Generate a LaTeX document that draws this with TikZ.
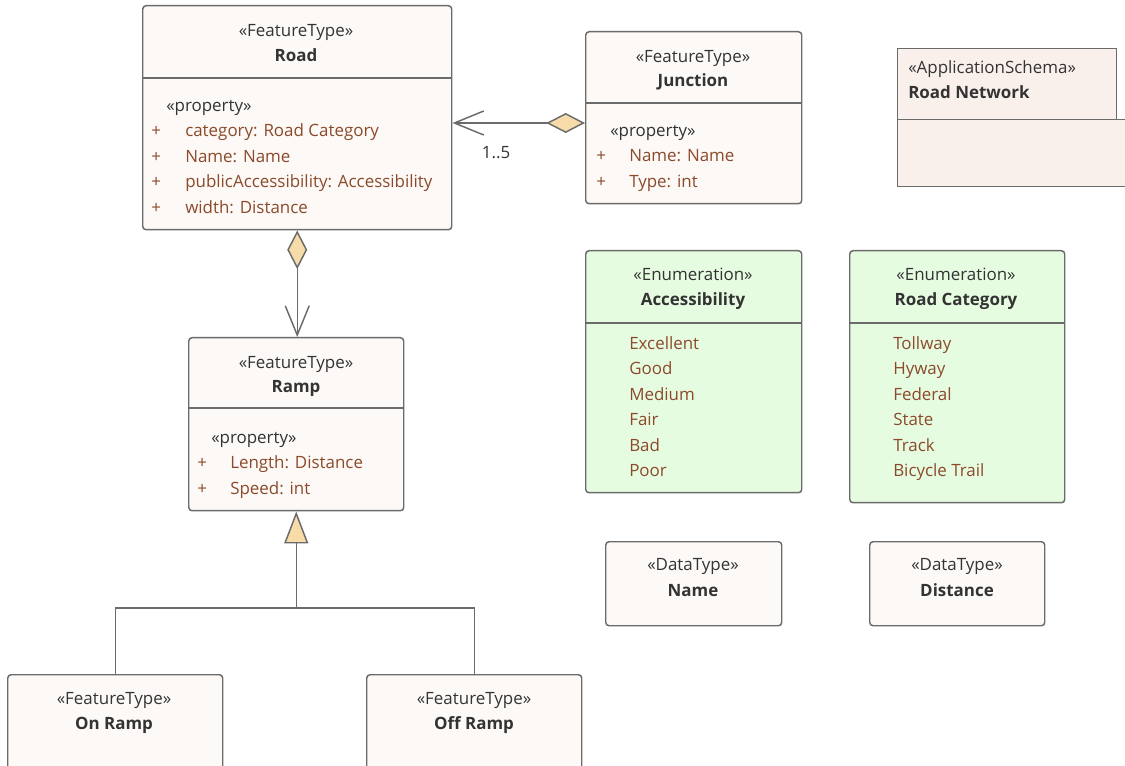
\documentclass[tikz,border=0pt]{standalone}
\usepackage{fontspec}
\setmainfont{Open Sans}
\usetikzlibrary{arrows.meta}
\definecolor{linegray}{HTML}{6B6B6B}
\definecolor{featfill}{HTML}{FDF9F6}
\definecolor{pkgfill}{HTML}{F9F0EC}
\definecolor{enumfill}{HTML}{E6FCE1}
\definecolor{attrtext}{HTML}{8B4A2B}
\definecolor{headtext}{HTML}{333333}
\definecolor{tipfill}{HTML}{F7DCAA}
\begin{document}
\begin{tikzpicture}[x=0.75pt, y=-0.75pt,
    every node/.style={font=\fontsize{12.7}{15}\selectfont, inner sep=0pt},
    box/.style={draw=linegray, line width=1.1pt, fill=featfill, rounded corners=2.5pt, anchor=north west},
    stereo/.style={text=headtext, anchor=mid, yshift=-2pt},
    title/.style={text=headtext, font=\fontsize{12.7}{15}\selectfont\bfseries, anchor=mid, yshift=-2pt},
    attr/.style={text=attrtext, anchor=mid west, yshift=-2pt},
    prop/.style={text=headtext, anchor=mid west, yshift=-2pt},
    sep/.style={draw=linegray, line width=1.1pt},
    link/.style={draw=linegray, line width=1.1pt},
    assoc/.style={link, {Diamond[length=29pt, width=15pt, fill=tipfill]}-{Straight Barb[length=22pt, width=18pt]}},
    gen/.style={link, {Triangle[length=24pt, width=18pt, fill=tipfill]}-},
  ]
  \useasboundingbox (0,0) rectangle (1125,766);

  % classes
  \node[box, minimum width=309*0.75pt, minimum height=224*0.75pt] (road) at (142,5) {};
  \node[box, minimum width=216*0.75pt, minimum height=172*0.75pt] (junction) at (585,31) {};
  \node[box, minimum width=215*0.75pt, minimum height=173*0.75pt] (ramp) at (188,337) {};
  \node[box, minimum width=215*0.75pt, minimum height=120*0.75pt] (onramp) at (7,674) {};
  \node[box, minimum width=215*0.75pt, minimum height=120*0.75pt] (offramp) at (366,674) {};
  \node[box, fill=enumfill, minimum width=216*0.75pt, minimum height=242*0.75pt] (access) at (585,250) {};
  \node[box, fill=enumfill, minimum width=215*0.75pt, minimum height=252*0.75pt] (roadcat) at (849,250) {};
  \node[box, minimum width=176*0.75pt, minimum height=84*0.75pt] (name) at (605,541) {};
  \node[box, minimum width=175*0.75pt, minimum height=84*0.75pt] (distance) at (869,541) {};

  % package
  \node[box, fill=pkgfill, rounded corners=0pt, minimum width=219*0.75pt, minimum height=71*0.75pt] (pkgtab) at (897,48) {};
  \node[box, fill=pkgfill, rounded corners=0pt, minimum width=240*0.75pt, minimum height=67*0.75pt] (pkgbody) at (897,119) {};

  % compartments
  \draw[sep] (road.west |- 0,78) -- (road.east |- 0,78);
  \draw[sep] (junction.west |- 0,103) -- (junction.east |- 0,103);
  \draw[sep] (ramp.west |- 0,408) -- (ramp.east |- 0,408);
  \draw[sep] (access.west |- 0,323) -- (access.east |- 0,323);
  \draw[sep] (roadcat.west |- 0,323) -- (roadcat.east |- 0,323);

  % Road
  \node[stereo] (road-st) at (296,30) {«FeatureType»};
  \node[title] (road-nm) at (296,55) {Road};
  \node[prop] (road-pr) at (166,105) {«property»};
  \foreach \t [count=\i] in {category: Road Category, Name: Name, publicAccessibility: Accessibility, width: Distance} {
    \node[attr] (road-p\i) at (151,{105+25.5*\i}) {+};
    \node[attr] (road-a\i) at (185,{105+25.5*\i}) {\t};
  }

  % Junction
  \node[stereo] (junc-st) at (693,56) {«FeatureType»};
  \node[title] (junc-nm) at (693,80) {Junction};
  \node[prop] (junc-pr) at (610,130) {«property»};
  \foreach \t [count=\i] in {Name: Name, Type: int} {
    \node[attr] (junc-p\i) at (596,{130+25.5*\i}) {+};
    \node[attr] (junc-a\i) at (629,{130+25.5*\i}) {\t};
  }

  % Ramp
  \node[stereo] (ramp-st) at (296,362) {«FeatureType»};
  \node[title] (ramp-nm) at (296,386) {Ramp};
  \node[prop] (ramp-pr) at (211,437) {«property»};
  \foreach \t [count=\i] in {Length: Distance, Speed: int} {
    \node[attr] (ramp-p\i) at (197,{437+25.5*\i}) {+};
    \node[attr] (ramp-a\i) at (230,{437+25.5*\i}) {\t};
  }

  % sub types
  \node[stereo] (on-st) at (114,698) {«FeatureType»};
  \node[title] (on-nm) at (114,723) {On Ramp};
  \node[stereo] (off-st) at (474,698) {«FeatureType»};
  \node[title] (off-nm) at (474,723) {Off Ramp};

  % enumerations
  \node[stereo] (acc-st) at (693,274) {«Enumeration»};
  \node[title] (acc-nm) at (693,299) {Accessibility};
  \foreach \t [count=\i] in {Excellent, Good, Medium, Fair, Bad, Poor}
    \node[attr] (acc-v\i) at (629,{317.5+25.5*\i}) {\t};
  \node[stereo] (cat-st) at (956,274) {«Enumeration»};
  \node[title] (cat-nm) at (956,299) {Road Category};
  \foreach \t [count=\i] in {Tollway, Hyway, Federal, State, Track, Bicycle Trail}
    \node[attr] (cat-v\i) at (893,{317.5+25.5*\i}) {\t};

  % data types
  \node[stereo] (name-st) at (693,564) {«DataType»};
  \node[title] (name-nm) at (693,590) {Name};
  \node[stereo] (dist-st) at (957,564) {«DataType»};
  \node[title] (dist-nm) at (957,590) {Distance};

  % package labels
  \node[prop] (pkg-st) at (908,67) {«ApplicationSchema»};
  \node[prop, font=\fontsize{12.7}{15}\selectfont\bfseries] (pkg-nm) at (908,92) {Road Network};

  % connectors
  \draw[assoc] (junction.west |- 0,123) -- (road.east |- 0,123);
  \node[stereo] (mult) at (496,152) {1..5};
  \draw[assoc] (road.south) -- (road.south |- ramp.north);
  \draw[gen] (ramp.south) -- (ramp.south |- 0,608) -| (onramp.north);
  \draw[link] (ramp.south |- 0,608) -| (offramp.north);
\end{tikzpicture}
\end{document}
